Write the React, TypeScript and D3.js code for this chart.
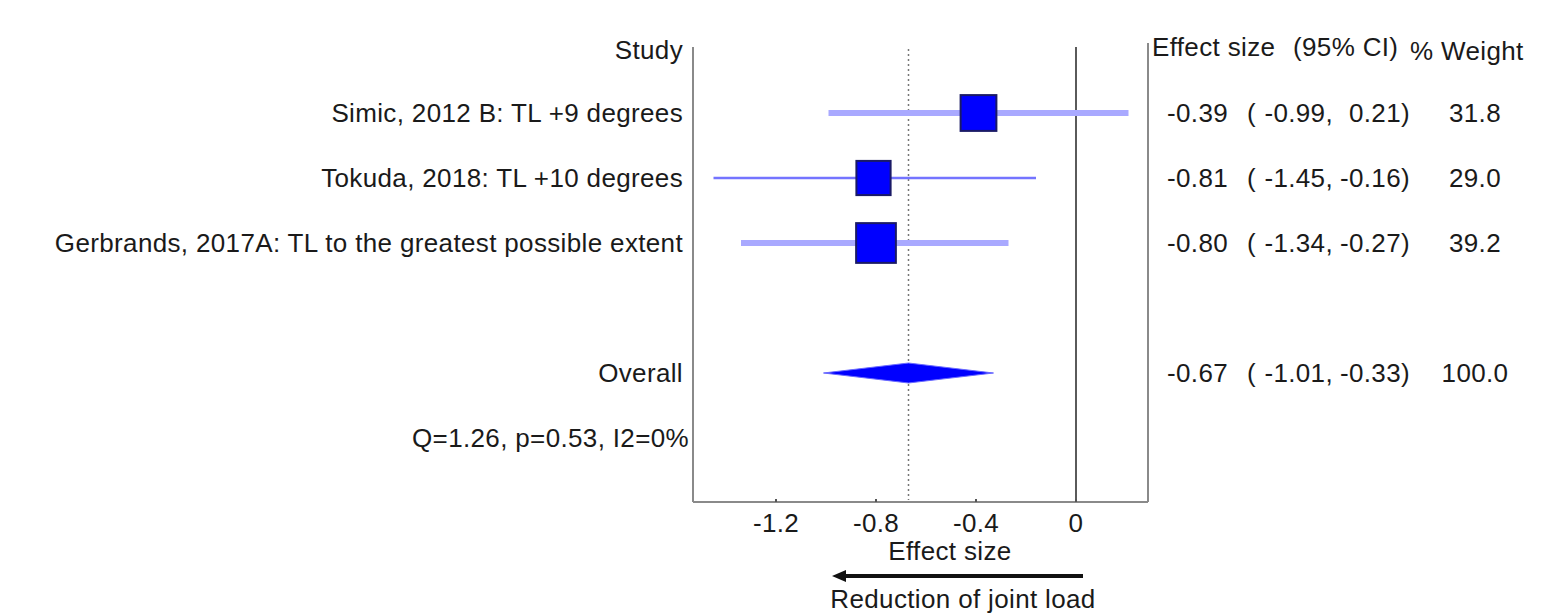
import React from "react";
import * as d3 from "d3";

// study rows
const studies = [
  "Simic, 2012 B: TL +9 degrees",
  "Tokuda, 2018: TL +10 degrees",
  "Gerbrands, 2017A: TL to the greatest possible extent",
];
const effects = [-0.39, -0.81, -0.8];
const lowers = [-0.99, -1.45, -1.34];
const uppers = [0.21, -0.16, -0.27];
const weights = [31.8, 29.0, 39.2];

// pooled estimate
const overallLabel = "Overall";
const overallEst = -0.67;
const overallLow = -1.01;
const overallHigh = -0.33;
const overallWeight = 100.0;
const heterogeneity = "Q=1.26, p=0.53, I2=0%";

const xTicks = [-1.2, -0.8, -0.4, 0];
const headers = ["Study", "Effect size", "(95% CI)", "% Weight"];
const xLabel = "Effect size";
const directionLabel = "Reduction of joint load";

// line style of each CI bar (study order)
const ciStyle = [
  { color: "#a9a9ff", width: 6 },
  { color: "#7474ff", width: 2.5 },
  { color: "#a9a9ff", width: 6 },
];

const W = 1550;
const H = 614;
const FONT = "'Liberation Sans', Arial, sans-serif";
const FS = 26;

// plain hyphen for negatives, like the original output
const locale = d3.formatLocale({
  decimal: ".",
  thousands: ",",
  grouping: [3],
  currency: ["", ""],
  minus: "-",
});

export default function App() {
  const x = d3.scaleLinear().domain([-1.532, 0.288]).range([693, 1148]);
  const y = d3.scaleLinear().domain([0, 6]).range([48, 438]);
  const size = d3.scaleSqrt().domain([0, 100]).range([0, 63.5]);
  const top = 45;
  const bottom = 502;
  const fmt = locale.format(".2f");
  const fmt1 = locale.format(".1f");
  const tickFmt = (v: number) => (v === 0 ? "0" : fmt1(v));

  const txt = (props: any, s: string) => (
    <text
      fontFamily={FONT}
      fontSize={FS}
      fill="#1a1a1a"
      letterSpacing={0.35}
      dy="0.35em"
      {...props}
    >
      {s}
    </text>
  );

  const colEst = 1228;
  const colOpen = 1247;
  const colLow = 1333;
  const colHigh = 1410;
  const colW = 1475;

  const rightCols = (row: number, est: number, lo: number, hi: number, w: number) => (
    <g key={"r" + row}>
      {txt({ x: colEst, y: y(row), textAnchor: "end" }, fmt(est))}
      {txt({ x: colOpen, y: y(row) }, "(")}
      {txt({ x: colLow, y: y(row), textAnchor: "end" }, fmt(lo) + ",")}
      {txt({ x: colHigh, y: y(row), textAnchor: "end" }, fmt(hi) + ")")}
      {txt({ x: colW, y: y(row), textAnchor: "middle" }, fmt1(w))}
    </g>
  );

  const dH = 10;
  const diamond = [
    [x(overallLow), y(5)],
    [x(overallEst), y(5) - dH],
    [x(overallHigh), y(5)],
    [x(overallEst), y(5) + dH],
  ];

  const arrowY = 576;
  const arrowL = 832;
  const arrowR = 1083;

  return (
    <svg
      width={W}
      height={H}
      style={{ position: "absolute", left: 0, top: 0, background: "#fff" }}
    >
      <rect width={W} height={H} fill="#fff" />

      {/* axes frame */}
      <line x1={693} x2={693} y1={top + 2} y2={bottom} stroke="#8a8a8a" strokeWidth={2} />
      <line x1={1148} x2={1148} y1={top - 2} y2={bottom} stroke="#8a8a8a" strokeWidth={2} />
      <line x1={693} x2={1148} y1={bottom} y2={bottom} stroke="#8a8a8a" strokeWidth={2} />
      <line x1={x(0)} x2={x(0)} y1={top + 2} y2={bottom} stroke="#5a5a5a" strokeWidth={2} />
      <line
        x1={x(overallEst)}
        x2={x(overallEst)}
        y1={top + 4}
        y2={bottom - 2}
        stroke="#777"
        strokeWidth={1.5}
        strokeDasharray="2,3"
      />

      {xTicks.map((t) => (
        <g key={t}>
          <line x1={x(t)} x2={x(t)} y1={bottom} y2={bottom - 3} stroke="#555" strokeWidth={2} />
          {txt({ x: x(t), y: 523, textAnchor: "middle" }, tickFmt(t))}
        </g>
      ))}
      {txt({ x: 950, y: 551, textAnchor: "middle" }, xLabel)}

      {/* direction arrow */}
      <line x1={arrowR} x2={arrowL + 10} y1={arrowY} y2={arrowY} stroke="#111" strokeWidth={4} />
      <path
        d={`M${arrowL},${arrowY} L${arrowL + 14},${arrowY - 6} L${arrowL + 14},${arrowY + 6} Z`}
        fill="#111"
      />
      {txt({ x: 963, y: 599, textAnchor: "middle" }, directionLabel)}

      {/* headers */}
      {txt({ x: 683, y: y(0) + 2, textAnchor: "end" }, headers[0])}
      {txt({ x: 1152, y: y(0) - 1 }, headers[1])}
      {txt({ x: 1293, y: y(0) - 1 }, headers[2])}
      {txt({ x: 1410, y: y(0) + 3 }, headers[3])}

      {/* studies */}
      {studies.map((s, i) => {
        const row = i + 1;
        const side = size(weights[i]);
        return (
          <g key={s}>
            {txt({ x: 683, y: y(row), textAnchor: "end" }, s)}
            <line
              x1={x(lowers[i])}
              x2={x(uppers[i])}
              y1={y(row)}
              y2={y(row)}
              stroke={ciStyle[i].color}
              strokeWidth={ciStyle[i].width}
            />
            <rect
              x={x(effects[i]) - side / 2}
              y={y(row) - side / 2}
              width={side}
              height={side}
              fill="#0000ff"
              stroke="#1a1a66"
              strokeWidth={2}
            />
            {rightCols(row, effects[i], lowers[i], uppers[i], weights[i])}
          </g>
        );
      })}

      {/* overall */}
      {txt({ x: 683, y: y(5), textAnchor: "end" }, overallLabel)}
      <polygon
        points={diamond.map((p) => p.join(",")).join(" ")}
        fill="#0000ff"
        stroke="#6a6aff"
        strokeWidth={1}
      />
      {rightCols(5, overallEst, overallLow, overallHigh, overallWeight)}
      {txt({ x: 689, y: y(6), textAnchor: "end" }, heterogeneity)}
    </svg>
  );
}
